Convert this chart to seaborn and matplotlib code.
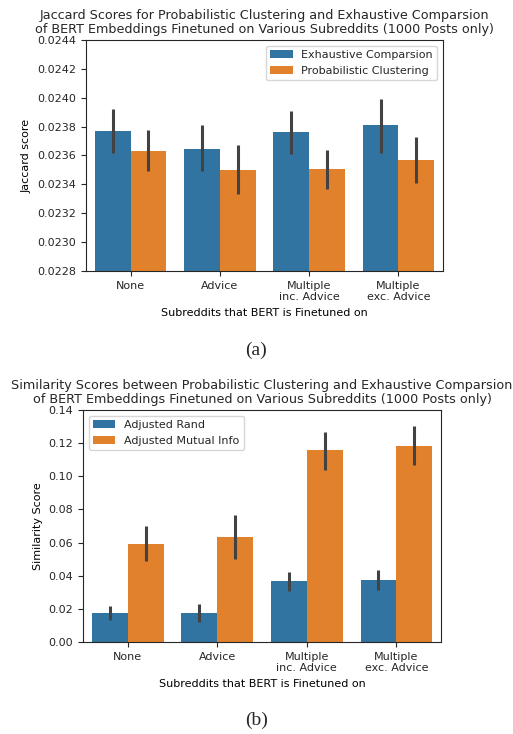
import matplotlib
matplotlib.use("Agg")
import matplotlib.pyplot as plt
import seaborn as sns
import pandas as pd

# categories shared by both panels
subreddits = ["None", "Advice", "Multiple\ninc. Advice", "Multiple\nexc. Advice"]

# panel (a): Jaccard scores (mean, ci low, ci high)
jac_methods = ["Exhaustive Comparsion", "Probabilistic Clustering"]
jac_exh = [0.02377, 0.023646, 0.02376, 0.02381]
jac_exh_lo = [0.02362, 0.02349, 0.02361, 0.02362]
jac_exh_hi = [0.02392, 0.02381, 0.02391, 0.02399]
jac_prob = [0.02363, 0.02350, 0.023506, 0.02357]
jac_prob_lo = [0.02349, 0.02333, 0.02337, 0.02341]
jac_prob_hi = [0.02378, 0.02367, 0.02364, 0.02373]

# panel (b): similarity scores
sim_metrics = ["Adjusted Rand", "Adjusted Mutual Info"]
sim_rand = [0.0174, 0.0174, 0.0368, 0.0376]
sim_rand_lo = [0.0134, 0.0120, 0.0306, 0.0312]
sim_rand_hi = [0.0218, 0.0232, 0.0420, 0.0432]
sim_ami = [0.0594, 0.0634, 0.1159, 0.1185]
sim_ami_lo = [0.0486, 0.0498, 0.1041, 0.1071]
sim_ami_hi = [0.0702, 0.0766, 0.1270, 0.1301]


def make_df(names, vals, los, his):
    rows = []
    for name, v, lo, hi in zip(names, vals, los, his):
        for s, a, b, c in zip(subreddits, v, lo, hi):
            rows.append({"Subreddit": s, "Method": name, "Score": a, "lo": b, "hi": c})
    return pd.DataFrame(rows)


df_a = make_df(jac_methods, [jac_exh, jac_prob], [jac_exh_lo, jac_prob_lo], [jac_exh_hi, jac_prob_hi])
df_b = make_df(sim_metrics, [sim_rand, sim_ami], [sim_rand_lo, sim_ami_lo], [sim_rand_hi, sim_ami_hi])

plt.rcParams["font.family"] = ["DejaVu Sans"]
plt.rcParams["font.size"] = 8
plt.rcParams["axes.edgecolor"] = ".15"
plt.rcParams["text.color"] = ".15"
plt.rcParams["xtick.color"] = ".15"
plt.rcParams["ytick.color"] = ".15"

fig = plt.figure(figsize=(5.13, 7.34), dpi=100)
ax1 = fig.add_axes([0.1676, 0.6308, 0.696, 0.3147])
ax2 = fig.add_axes([0.1618, 0.1253, 0.698, 0.3161])


def draw(ax, df, ylim, loc):
    sns.barplot(data=df, x="Subreddit", y="Score", hue="Method", ax=ax,
                errorbar=None, palette=["#1f77b4", "#ff7f0e"], saturation=0.75)
    # error bars at bar centres
    bars = [p for p in ax.patches if p.get_height() > 0 or p.get_width() > 0][:len(df)]
    for p, (_, r) in zip(bars, df.iterrows()):
        xc = p.get_x() + p.get_width() / 2
        ax.vlines(xc, r["lo"], r["hi"], color=".26", lw=2.2, zorder=3)
    ax.set_ylim(*ylim)
    ax.set_xlim(-0.5, len(subreddits) - 0.5)
    ax.legend(loc=loc, fontsize=8, title=None)


title_kw = dict(fontsize=9.2, linespacing=1.1, pad=5)

draw(ax1, df_a, (0.0228, 0.0244), "upper right")
ax1.set_yticks([0.0228 + 0.0002 * i for i in range(9)])
ax1.set_yticklabels([f"{0.0228 + 0.0002 * i:.4f}" for i in range(9)])
ax1.set_ylabel("Jaccard score")
ax1.set_xlabel("Subreddits that BERT is Finetuned on")
ax1.set_title("Jaccard Scores for Probabilistic Clustering and Exhaustive Comparsion\n"
              "of BERT Embeddings Finetuned on Various Subreddits (1000 Posts only)",
              **title_kw)

draw(ax2, df_b, (0, 0.14), "upper left")
ax2.set_yticks([0.02 * i for i in range(8)])
ax2.set_yticklabels([f"{0.02 * i:.2f}" for i in range(8)])
ax2.set_ylabel("Similarity Score")
ax2.set_xlabel("Subreddits that BERT is Finetuned on")
ax2.set_title("Similarity Scores between Probabilistic Clustering and Exhaustive Comparsion\n"
              "of BERT Embeddings Finetuned on Various Subreddits (1000 Posts only)",
              **title_kw)

for ax in (ax1, ax2):
    ax.tick_params(labelsize=8)

fig.text(0.5, 0.523, "(a)", ha="center", va="center", family="Liberation Serif", fontsize=14)
fig.text(0.5, 0.019, "(b)", ha="center", va="center", family="Liberation Serif", fontsize=14)

fig.savefig("out.png", dpi=100)
